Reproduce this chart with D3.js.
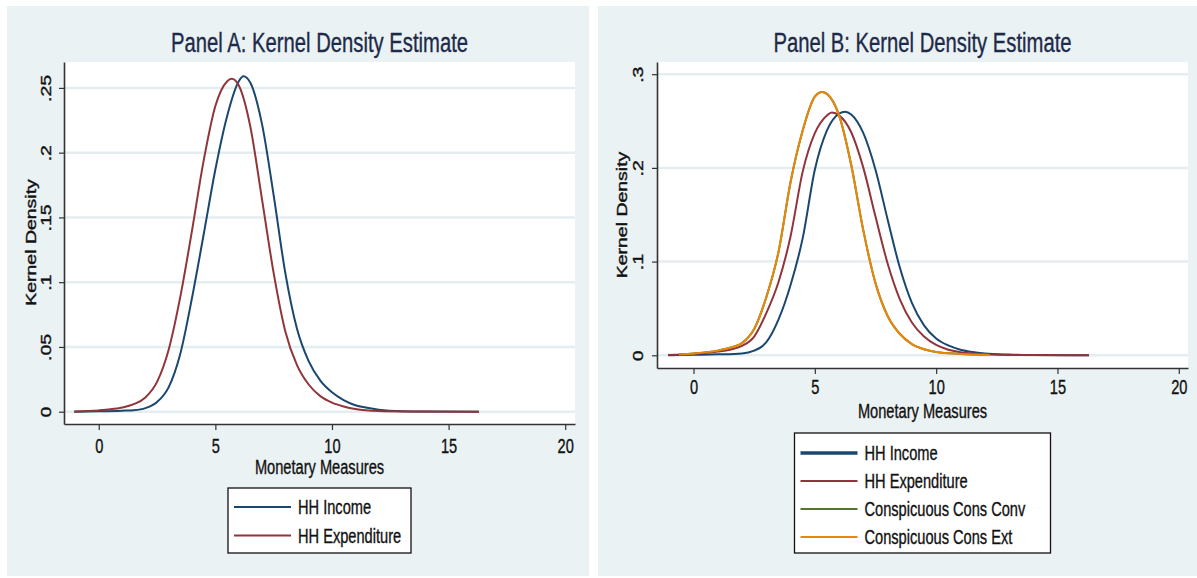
<!DOCTYPE html>
<html><head><meta charset="utf-8">
<script src="https://cdn.jsdelivr.net/npm/d3@7"></script>
<style>
body{margin:0;background:#fff;}
svg{display:block;}
</style></head>
<body>
<svg id="chart" width="1197" height="578"></svg>
<script>
// ---------- DATA ----------
const xTickValues = [0, 5, 10, 15, 20];
const yTicksA = [0, 0.05, 0.1, 0.15, 0.2, 0.25];
const yTickLabelsA = ["0", ".05", ".1", ".15", ".2", ".25"];
const yTicksB = [0, 0.1, 0.2, 0.3];
const yTickLabelsB = ["0", ".1", ".2", ".3"];

const titleA = "Panel A: Kernel Density Estimate";
const titleB = "Panel B: Kernel Density Estimate";
const xTitle = "Monetary Measures";
const yTitle = "Kernel Density";

const seriesNamesA = ["HH Income", "HH Expenditure"];
const seriesNamesB = ["HH Income", "HH Expenditure", "Conspicuous Cons Conv", "Conspicuous Cons Ext"];

// Panel A
const incomeA_x = [-1.05, 0, 1, 1.5, 2, 2.5, 3, 3.5, 4, 4.5, 5, 5.5, 6, 6.2, 6.5, 7, 7.5, 8, 8.5, 9, 9.5, 10, 10.5, 11, 11.5, 12, 13, 14, 16.3];
const incomeA_y = [0, 0.0003, 0.0008, 0.0012, 0.0028, 0.0075, 0.019, 0.045, 0.088, 0.137, 0.187, 0.228, 0.255, 0.259, 0.254, 0.222, 0.167, 0.107, 0.064, 0.039, 0.024, 0.015, 0.009, 0.005, 0.003, 0.0015, 0.0003, 0.0001, 0];
const expendA_x = [-1.05, 0, 0.5, 1, 1.5, 2, 2.5, 3, 3.5, 4, 4.5, 5, 5.5, 5.7, 6, 6.5, 7, 7.5, 8, 8.5, 9, 9.5, 10, 10.5, 11, 12, 13, 16.3];
const expendA_y = [0.0002, 0.001, 0.0018, 0.0032, 0.0058, 0.011, 0.023, 0.048, 0.089, 0.140, 0.194, 0.236, 0.255, 0.257, 0.252, 0.220, 0.164, 0.107, 0.062, 0.036, 0.021, 0.012, 0.007, 0.004, 0.002, 0.0005, 0.0002, 0];

// Panel B
const incomeB_x = [-1.05, 0, 1, 2, 2.5, 2.8, 3, 3.5, 4, 4.5, 5, 5.5, 6, 6.25, 6.5, 7, 7.5, 8, 8.5, 9, 9.5, 10, 10.5, 11, 11.5, 12, 13, 14, 16.3];
const incomeB_y = [0, 0.0005, 0.001, 0.002, 0.005, 0.009, 0.014, 0.038, 0.075, 0.125, 0.198, 0.240, 0.258, 0.260, 0.257, 0.237, 0.198, 0.145, 0.094, 0.056, 0.032, 0.018, 0.0105, 0.006, 0.0035, 0.002, 0.0008, 0.0003, 0];
const expendB_x = [-1.05, 0, 1, 1.5, 2, 2.5, 3, 3.5, 4, 4.5, 5, 5.5, 5.7, 6, 6.5, 7, 7.5, 8, 8.5, 9, 9.5, 10, 10.5, 11, 12, 13, 16.3];
const expendB_y = [0.0003, 0.0015, 0.004, 0.006, 0.010, 0.020, 0.045, 0.078, 0.127, 0.196, 0.237, 0.256, 0.259, 0.256, 0.238, 0.200, 0.148, 0.098, 0.060, 0.035, 0.020, 0.011, 0.006, 0.0034, 0.0012, 0.0004, 0];
const consConvB_x = [-0.6, 0, 1, 1.5, 2, 2.5, 3, 3.5, 4, 4.5, 5, 5.3, 5.5, 6, 6.5, 7, 7.5, 8, 8.5, 9, 9.5, 10, 11, 12.2];
const consConvB_y = [0.001, 0.002, 0.005, 0.008, 0.013, 0.028, 0.062, 0.110, 0.185, 0.240, 0.276, 0.281, 0.279, 0.256, 0.203, 0.133, 0.077, 0.042, 0.023, 0.012, 0.0065, 0.0035, 0.0015, 0.0004];
const consExtB_x = [-0.6, 0, 1, 1.5, 2, 2.5, 3, 3.5, 4, 4.5, 5, 5.3, 5.5, 6, 6.5, 7, 7.5, 8, 8.5, 9, 9.5, 10, 11, 12.2];
const consExtB_y = [0.001, 0.002, 0.005, 0.008, 0.013, 0.028, 0.062, 0.110, 0.185, 0.240, 0.276, 0.281, 0.279, 0.256, 0.203, 0.133, 0.077, 0.042, 0.023, 0.012, 0.0065, 0.0035, 0.0015, 0.0004];

// ---------- STYLE ----------
const colors = {income: "#1a476f", expend: "#90353b", conv: "#55752f", ext: "#e8870a"};
const bg = "#eaf2f3";
const gridColor = "#e4edf0";
const font = "'Liberation Sans', Arial, sans-serif";
const squeeze = 0.75;   // horizontal compression of the original figure's lettering
const textColor = "#111";

const svg = d3.select("#chart");
svg.append("rect").attr("x",0).attr("y",0).attr("width",1197).attr("height",578).attr("fill","#fff");

function zip(xs, ys){ return xs.map((x,i)=>[x, ys[i]]); }

function hText(g, x, y, str, size, anchor, color){
  return g.append("text").attr("transform",`translate(${x},${y}) scale(${squeeze},1)`)
    .attr("text-anchor",anchor).attr("font-family",font).attr("font-size",size)
    .attr("fill",color||textColor).attr("stroke",color||textColor).attr("stroke-width",0.35).text(str);
}
function vText(g, x, y, str, size, color){
  return g.append("text").attr("transform",`translate(${x},${y}) rotate(-90) scale(1,${squeeze})`)
    .attr("text-anchor","middle").attr("font-family",font).attr("font-size",size)
    .attr("fill",color||textColor).attr("stroke",color||textColor).attr("stroke-width",0.5).text(str);
}

function drawPanel(cfg){
  const g = svg.append("g");
  g.append("rect").attr("x",cfg.bx).attr("y",cfg.by).attr("width",cfg.bw).attr("height",cfg.bh).attr("fill",bg);
  const x = d3.scaleLinear().domain(cfg.xDomain).range([cfg.left, cfg.right]);
  const y = d3.scaleLinear().domain(cfg.yDomain).range([cfg.bottom, cfg.top]);
  // plot region
  g.append("rect").attr("x",cfg.left).attr("y",cfg.top).attr("width",cfg.right-cfg.left).attr("height",cfg.bottom-cfg.top).attr("fill","#fff");
  // grid
  g.selectAll("line.grid").data(cfg.yTicks).join("line")
    .attr("x1",cfg.left+1).attr("x2",cfg.right).attr("y1",d=>y(d)).attr("y2",d=>y(d))
    .attr("stroke",gridColor).attr("stroke-width",2.5);
  // curves
  const line = d3.line().x(d=>x(d[0])).y(d=>y(d[1])).curve(d3.curveMonotoneX);
  cfg.series.forEach(s=>{
    g.append("path").attr("d",line(zip(s.xs,s.ys))).attr("fill","none")
      .attr("stroke",s.color).attr("stroke-width",2);
  });
  // y axis
  const ax = d3.axisLeft(y).tickValues(cfg.yTicks).tickSize(5).tickSizeOuter(0).tickFormat((d,i)=>cfg.yLabels[i]);
  const ga = g.append("g").attr("transform",`translate(${cfg.left},0)`).call(ax);
  ga.select(".domain").attr("stroke","#333").attr("stroke-width",1.6);
  ga.selectAll(".tick line").attr("stroke","#333").attr("stroke-width",1.2);
  ga.selectAll(".tick text").attr("font-family",font).attr("font-size",19.5).attr("fill",textColor)
    .attr("stroke",textColor).attr("stroke-width",0.5)
    .attr("x",null).attr("y",null).attr("dy",null).attr("text-anchor","middle")
    .attr("transform",`translate(${cfg.yLabelBase},0) rotate(-90) scale(1,${squeeze})`);
  // x axis
  const bx = d3.axisBottom(x).tickValues(xTickValues).tickSize(6).tickSizeOuter(0).tickFormat(d3.format("d"));
  const gb = g.append("g").attr("transform",`translate(0,${cfg.bottom})`).call(bx);
  gb.select(".domain").attr("stroke","#333").attr("stroke-width",1.6);
  gb.selectAll(".tick line").attr("stroke","#333").attr("stroke-width",1.2);
  gb.selectAll(".tick text").attr("font-family",font).attr("font-size",19.5).attr("fill",textColor)
    .attr("stroke",textColor).attr("stroke-width",0.35)
    .attr("x",null).attr("y",null).attr("dy",null)
    .attr("transform",`translate(0,${cfg.xLabelBase}) scale(${squeeze},1)`);
  // titles
  const cx = (cfg.left+cfg.right)/2;
  hText(g, cx, cfg.titleY, cfg.title, 27, "middle", "#1e2a4a");
  hText(g, cx, cfg.bottom+cfg.xTitleBase, xTitle, 19.5, "middle");
  vText(g, cfg.ytX, cfg.ytY, yTitle, 19.5);
  // legend
  const L = cfg.legend;
  g.append("rect").attr("x",L.x).attr("y",L.y).attr("width",L.w).attr("height",L.h)
    .attr("fill","#fff").attr("stroke","#111").attr("stroke-width",1.3);
  L.items.forEach((it,i)=>{
    const ry = L.y + L.first + i*L.step;
    g.append("line").attr("x1",L.x+6).attr("x2",L.x+63).attr("y1",ry).attr("y2",ry)
      .attr("stroke",it.color).attr("stroke-width",it.w);
    hText(g, L.x+70, ry+7, it.name, 19.5, "start");
  });
}

drawPanel({
  bx:7, by:6, bw:582, bh:570,
  left:64, right:575, top:62, bottom:424,
  xDomain:[-1.49, 20.42], yDomain:[-0.0095, 0.27],
  yTicks:yTicksA, yLabels:yTickLabelsA, title:titleA, titleY:52,
  ytX:36, ytY:242.5, yLabelBase:-13, xLabelBase:29, xTitleBase:49.5,
  series:[
    {xs:incomeA_x, ys:incomeA_y, color:colors.income},
    {xs:expendA_x, ys:expendA_y, color:colors.expend}
  ],
  legend:{x:228, y:488, w:183, h:65, first:19, step:28.5, items:[
    {name:seriesNamesA[0], color:colors.income, w:2},
    {name:seriesNamesA[1], color:colors.expend, w:2}
  ]}
});

drawPanel({
  bx:598, by:6, bw:599, bh:570,
  left:657, right:1188, top:62, bottom:368,
  xDomain:[-1.505, 20.38], yDomain:[-0.01355, 0.313],
  yTicks:yTicksB, yLabels:yTickLabelsB, title:titleB, titleY:52,
  ytX:627, ytY:215, yLabelBase:-14, xLabelBase:26, xTitleBase:50,
  series:[
    {xs:incomeB_x, ys:incomeB_y, color:colors.income},
    {xs:expendB_x, ys:expendB_y, color:colors.expend},
    {xs:consConvB_x, ys:consConvB_y, color:colors.conv},
    {xs:consExtB_x, ys:consExtB_y, color:colors.ext}
  ],
  legend:{x:794.5, y:433, w:256, h:120, first:20, step:28, items:[
    {name:seriesNamesB[0], color:colors.income, w:3.5},
    {name:seriesNamesB[1], color:colors.expend, w:2},
    {name:seriesNamesB[2], color:colors.conv, w:2},
    {name:seriesNamesB[3], color:colors.ext, w:2}
  ]}
});
</script>
</body></html>
